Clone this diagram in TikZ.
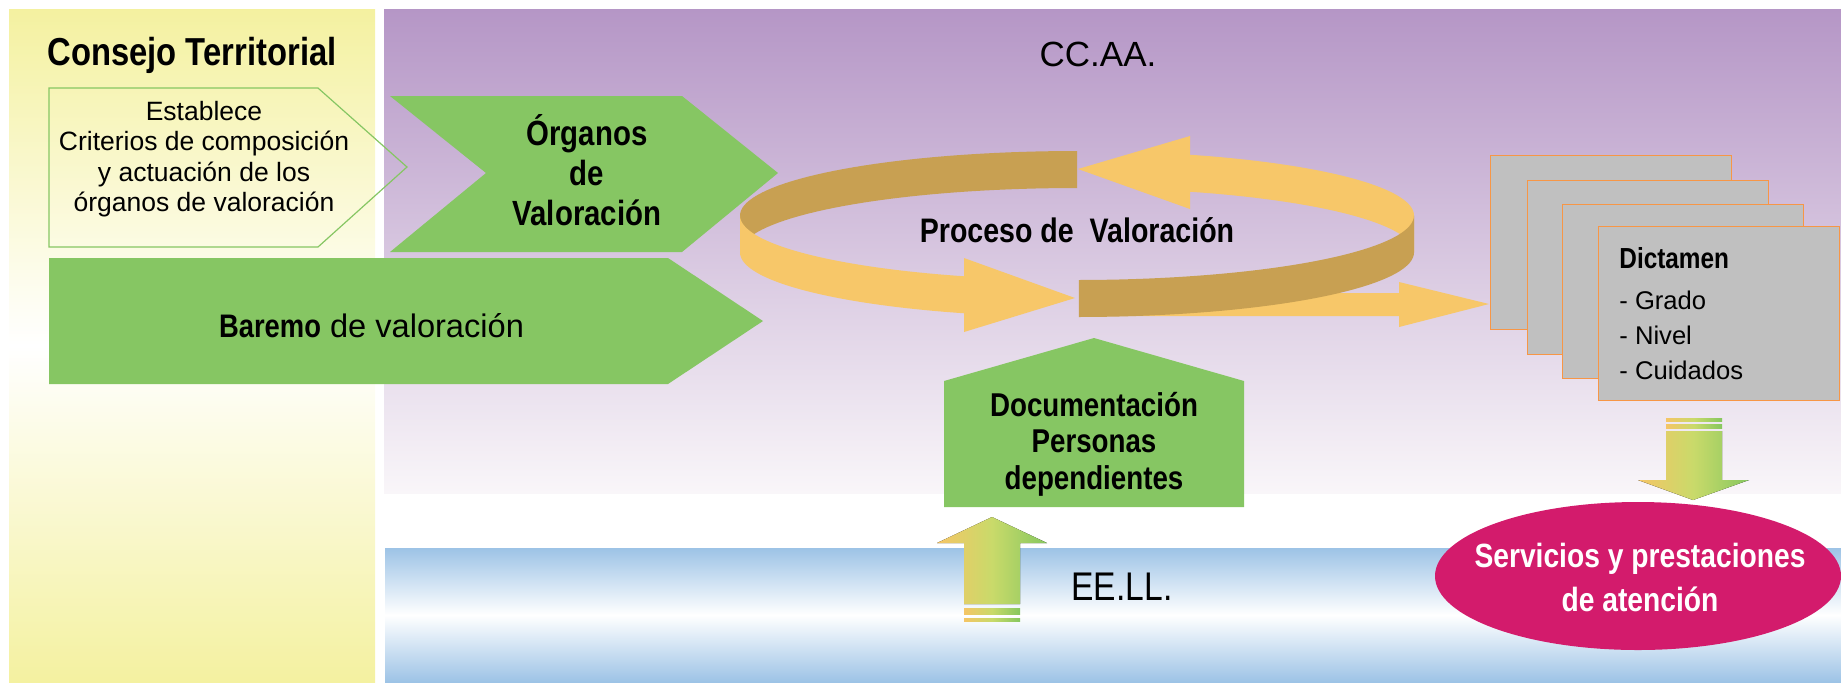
\documentclass[tikz,border=0pt]{standalone}
\usepackage{fontspec}
\setmainfont{Liberation Sans}
\newfontfamily\cond{Liberation Sans}[FakeStretch=0.84]
\usepackage{tikz}
\usetikzlibrary{shapes.geometric}
\definecolor{panelyellow}{HTML}{F4F1A0}
\definecolor{panelpurple}{HTML}{B596C6}
\definecolor{purplefade}{HTML}{F9F6F9}
\definecolor{bandblue}{HTML}{9DC3E6}
\definecolor{leafgreen}{HTML}{86C663}
\definecolor{ringdark}{HTML}{C8A052}
\definecolor{ringlight}{HTML}{F7C769}
\definecolor{sheetgray}{HTML}{C0C0C0}
\definecolor{sheetedge}{HTML}{F79646}
\definecolor{servmagenta}{HTML}{D31B6C}
\definecolor{arroworange}{HTML}{F5C566}
\definecolor{arrowlime}{HTML}{C9DA6A}
\definecolor{arrowgreen}{HTML}{86C75F}

\begin{document}
\begin{tikzpicture}[x=0.5pt,y=-0.5pt,
    txt/.style={inner sep=0pt,align=center},
    sheet/.style={draw=sheetedge,fill=sheetgray,line width=0.6pt,anchor=north west,minimum width=120.5pt,minimum height=87pt,inner sep=0pt},
    blockarrow/.style={left color=arroworange,right color=arrowgreen,middle color=arrowlime}]
        \useasboundingbox (0,0) rectangle (1841,682);
        \fill[top color=panelyellow,bottom color=panelyellow,middle color=white] (9,9) rectangle (375,682);
        \fill[top color=panelpurple,bottom color=purplefade] (384,9) rectangle (1841,493);
        \fill[top color=bandblue,bottom color=bandblue,middle color=white] (385,548) rectangle (1841,682);

        \draw[leafgreen,line width=0.6pt] (49,88) -- (318,88) -- (407,167) -- (318,247) -- (49,247) -- cycle;
        \fill[leafgreen] (390,96) -- (682,96) -- (778,173) -- (682,252) -- (390,252) -- (486,173) -- cycle;
        \fill[leafgreen] (49,258) -- (668,258) -- (763,321) -- (668,384) -- (49,384) -- cycle;
        \fill[leafgreen] (944,507) -- (944,381) -- (1094,338) -- (1244,381) -- (1244,507) -- cycle;

        \fill[blockarrow] (964,604) -- (964,543) -- (937,543) -- (992,517) -- (1047,543) -- (1020,543) -- (1020,604) -- cycle;
        \foreach \ya/\yb in {608/614,618/621}{
            \fill[blockarrow] (964,\ya) rectangle (1020,\yb);
        }
        \fill[blockarrow] (1666,431) -- (1722,431) -- (1722,480) -- (1749,480) -- (1693,500) -- (1638,480) -- (1666,480) -- cycle;
        \foreach \ya/\yb in {418/421,424/428}{
            \fill[blockarrow] (1666,\ya) rectangle (1722,\yb);
        }

        \fill[ringlight] (1079,293) -- (1399,293) -- (1399,282) -- (1489,304) -- (1399,327) -- (1399,316) -- (1079,316) -- cycle;
        \foreach \from/\to/\col in {90/180/ringdark,0/70.4/ringlight,180/250.4/ringlight,270.3/360/ringdark}{
            \fill[fill=\col] plot[variable=\t,domain=\from:\to,samples=40] ({1077+337*cos(\t)},{215.5-64.5*sin(\t)})
                -- plot[variable=\t,domain=\to:\from,samples=40] ({1077+337*cos(\t)},{252.5-64.5*sin(\t)}) -- cycle;
        }
        \fill[ringlight] (1190,136) -- (1078,169) -- (1190,209) -- cycle;
        \fill[ringlight] (964,258) -- (1075,298) -- (964,332) -- cycle;

        \foreach [count=\i] \bx/\by in {1490/155,1527/180,1562/204,1598/226}{
            \node[sheet] (sheet\i) at (\bx,\by) {};
        }
        \node[ellipse,fill=servmagenta,minimum width=203pt,minimum height=74pt,inner sep=0pt] (serv) at (1638,576) {};

        \node[txt,anchor=base,font=\cond\bfseries\fontsize{19.5}{22}\selectfont] (council) at (192,65) {Consejo Territorial};
        \node[txt,font=\fontsize{13.25}{15.25}\selectfont] (criteria) at (204,159) {Establece\\Criterios de composición\\y actuación de los\\órganos de valoración};
        \node[txt,font=\cond\bfseries\fontsize{17.5}{20}\selectfont] (organs) at (587,170) {Órganos\\de\\Valoración};
        \node[txt,anchor=base,font=\fontsize{16.3}{19}\selectfont] (scale) at (371.5,337) {{\cond\bfseries Baremo} de valoración};
        \node[txt,anchor=base,font=\fontsize{17.5}{20}\selectfont] (ccaa) at (1098,66) {CC.AA.};
        \node[txt,anchor=base,font=\cond\bfseries\fontsize{17}{20}\selectfont] (process) at (1077,242) {Proceso de\ \ Valoración};
        \node[txt,font=\cond\bfseries\fontsize{16.5}{18.25}\selectfont] (docs) at (1094,444) {Documentación\\Personas\\dependientes};
        \node[txt,anchor=base,font=\cond\fontsize{20}{24}\selectfont] (eell) at (1122,600) {EE.LL.};
        \node[txt,anchor=west,align=left,font=\fontsize{12.8}{17.5}\selectfont] (verdict) at (sheet4.west -| 1619,316) {{\cond\bfseries\fontsize{14.5}{17.5}\selectfont Dictamen}\\[3pt]- Grado\\- Nivel\\- Cuidados};
        \node[txt,text=white,font=\cond\bfseries\fontsize{16.8}{22}\selectfont] (servtext) at (1640,577) {Servicios y prestaciones\\de atención};
    \end{tikzpicture}
\end{document}
